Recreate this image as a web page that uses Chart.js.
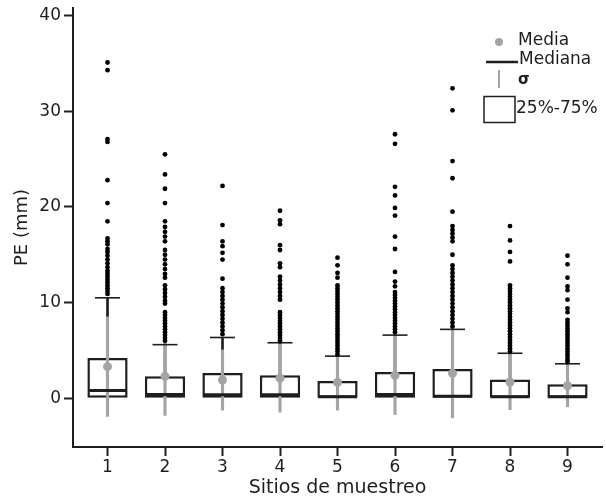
<!DOCTYPE html>
<html>
<head>
<meta charset="utf-8">
<script src="https://cdn.jsdelivr.net/npm/chart.js@4.4.0/dist/chart.umd.min.js"></script>
<style>
    html, body { margin: 0; padding: 0; background: #fff; }
    #wrap { width: 606px; height: 499px; position: relative; }
</style>
</head>
<body>
<div id="wrap"><canvas id="boxChart"></canvas></div>
<script>
// sitios de muestreo y estadisticos de PE (mm)
const sites = [1, 2, 3, 4, 5, 6, 7, 8, 9];
const q1 = [0, 0, 0, 0, 0, 0, 0, 0, 0];
const q3 = [4.2, 2.3, 2.65, 2.4, 1.8, 2.75, 3.05, 1.95, 1.45];
const median = [0.8, 0.4, 0.35, 0.35, 0.15, 0.4, 0.2, 0.15, 0.15];
const mean = [3.3, 2.3, 1.9, 2.1, 1.65, 2.4, 2.6, 1.7, 1.3];
const sd = [5.2, 4.1, 3.15, 3.55, 2.9, 4.1, 4.65, 2.9, 2.2];
const whiskerTop = [10.5, 5.6, 6.35, 5.8, 4.4, 6.6, 7.2, 4.7, 3.6];
const outliers = [
    [35.1, 34.3, 27.1, 26.8, 22.8, 20.4, 18.5, 16.7, 16.4, 16.1, 15.6, 15.3, 14.9, 14.5, 14.1, 13.7, 13.3, 13.0, 12.7, 12.4, 12.1, 11.8, 11.5, 11.2, 10.9],
    [25.5, 23.4, 21.9, 20.4, 18.5, 17.9, 17.4, 16.9, 16.4, 15.5, 15.0, 14.5, 14.0, 13.5, 13.0, 12.6, 11.8, 11.4, 11.0, 10.6, 10.2, 9.9, 9.0, 8.7, 8.4, 8.1, 7.8, 7.5, 7.2, 6.9, 6.6, 6.3, 6.0],
    [22.2, 18.1, 16.4, 15.9, 15.2, 14.5, 12.5, 11.5, 11.1, 10.7, 10.3, 9.9, 9.5, 9.1, 8.7, 8.3, 7.9, 7.5, 7.1, 6.7],
    [19.6, 18.6, 18.2, 16.0, 15.5, 14.1, 13.7, 12.7, 12.3, 11.9, 11.5, 11.1, 10.7, 10.3, 9.0, 8.7, 8.4, 8.1, 7.8, 7.5, 7.2, 6.9, 6.6, 6.3, 6.0],
    [14.7, 13.9, 13.1, 12.6, 11.8, 11.5, 11.2, 10.9, 10.6, 10.3, 10.0, 9.7, 9.4, 9.1, 8.8, 8.5, 8.2, 7.9, 7.6, 7.3, 7.0, 6.7, 6.4, 6.1, 5.8, 5.5, 5.2, 4.9, 4.6],
    [27.6, 26.6, 22.1, 21.2, 19.9, 19.1, 16.9, 15.6, 13.2, 12.2, 11.7, 11.1, 10.8, 10.5, 10.2, 9.9, 9.6, 9.3, 9.0, 8.7, 8.4, 8.1, 7.8, 7.5, 7.2, 6.9],
    [32.4, 30.1, 24.8, 23.0, 19.5, 18.0, 17.6, 17.2, 16.8, 16.4, 15.0, 13.9, 13.5, 13.1, 12.7, 12.3, 11.9, 11.5, 11.1, 10.7, 10.3, 9.9, 9.5, 9.1, 8.7, 8.3, 7.9, 7.5],
    [18.0, 16.5, 15.3, 14.3, 11.8, 11.5, 11.2, 10.9, 10.6, 10.3, 10.0, 9.7, 9.4, 9.1, 8.8, 8.5, 8.2, 7.9, 7.6, 7.3, 7.0, 6.7, 6.4, 6.1, 5.8, 5.5, 5.2, 4.9],
    [14.9, 14.0, 12.6, 11.7, 11.3, 10.3, 9.4, 9.0, 8.2, 7.9, 7.6, 7.3, 7.0, 6.7, 6.4, 6.1, 5.8, 5.5, 5.2, 4.9, 4.6, 4.3, 4.0, 3.8]
];
const yTicks = [0, 10, 20, 30, 40];
const legendLabels = ['Media', 'Mediana', 'σ', '25%-75%'];

const INK = '#1e1e1e';
const GREY = '#a4a4a4';
Chart.defaults.font.family = "'DejaVu Sans', sans-serif";
Chart.defaults.color = INK;

function pts(values) {
    return sites.map((s, i) => ({x: s, y: values[i]}));
}

function ranges(lo, hi) {
    return sites.map((s, i) => ({x: s, y: [lo[i], hi[i]]}));
}

const outlierPoints = [];
outliers.forEach((list, i) => {
    list.forEach(v => outlierPoints.push({x: sites[i], y: v}));
});

// leyenda dibujada a mano, como en la figura original
const legendPlugin = {
    id: 'boxLegend',
    afterDraw(chart) {
        const ctx = chart.ctx;
        ctx.save();
        ctx.font = "17px 'DejaVu Sans'";
        ctx.fillStyle = INK;
        ctx.textAlign = 'left';
        ctx.textBaseline = 'middle';

        ctx.fillStyle = GREY;
        ctx.beginPath();
        ctx.arc(499, 42, 4, 0, Math.PI * 2);
        ctx.fill();
        ctx.fillStyle = INK;
        ctx.fillText(legendLabels[0], 518, 41);

        ctx.strokeStyle = INK;
        ctx.lineWidth = 2.5;
        ctx.beginPath();
        ctx.moveTo(486, 62);
        ctx.lineTo(518, 62);
        ctx.stroke();
        ctx.fillText(legendLabels[1], 519, 60);

        ctx.strokeStyle = GREY;
        ctx.lineWidth = 2;
        ctx.beginPath();
        ctx.moveTo(499, 70);
        ctx.lineTo(499, 88);
        ctx.stroke();
        ctx.font = "bold 15px 'DejaVu Sans'";
        ctx.fillText(legendLabels[2], 518, 80);

        ctx.strokeStyle = INK;
        ctx.lineWidth = 1.5;
        ctx.strokeRect(484, 96.5, 31, 26);
        ctx.font = "17px 'DejaVu Sans'";
        ctx.fillText(legendLabels[3], 516, 109);
        ctx.restore();
    }
};

new Chart(document.getElementById('boxChart'), {
    type: 'bar',
    data: {
        datasets: [
            {
                type: 'scatter',
                data: outlierPoints,
                pointRadius: 2.4,
                pointBackgroundColor: '#000',
                pointBorderWidth: 0,
                order: 0
            },
            {
                type: 'scatter',
                data: pts(mean),
                pointRadius: 4.5,
                pointBackgroundColor: GREY,
                pointBorderWidth: 0,
                order: 1
            },
            {
                type: 'scatter',
                data: pts(median),
                pointStyle: 'line',
                pointRadius: 19.5,
                pointBorderColor: INK,
                pointBorderWidth: 3,
                order: 2
            },
            {
                type: 'scatter',
                data: pts(whiskerTop),
                pointStyle: 'line',
                pointRadius: 12.5,
                pointBorderColor: INK,
                pointBorderWidth: 1.6,
                order: 3
            },
            {
                type: 'bar',
                data: ranges(mean.map((m, i) => m - sd[i]), mean.map((m, i) => m + sd[i])),
                backgroundColor: GREY,
                borderWidth: 0,
                barThickness: 2.5,
                grouped: false,
                order: 4
            },
            {
                type: 'bar',
                data: ranges(q3, whiskerTop),
                backgroundColor: INK,
                borderWidth: 0,
                barThickness: 2,
                grouped: false,
                order: 5
            },
            {
                type: 'bar',
                data: ranges(q1, q3),
                backgroundColor: '#fff',
                borderColor: INK,
                borderWidth: 2.5,
                borderSkipped: false,
                barPercentage: 0.7,
                categoryPercentage: 1,
                grouped: false,
                order: 6
            }
        ]
    },
    options: {
        responsive: true,
        maintainAspectRatio: false,
        animation: false,
        layout: {
            autoPadding: false,
            padding: {top: 8, right: 4, left: 0, bottom: 0}
        },
        plugins: {
            legend: {display: false},
            tooltip: {enabled: false}
        },
        scales: {
            x: {
                type: 'linear',
                min: 0.4,
                max: 9.6,
                offset: false,
                afterBuildTicks: function (scale) {
                    scale.ticks = sites.map(v => ({value: v}));
                },
                afterFit: function (scale) {
                    scale.height = 52;
                },
                grid: {
                    offset: false,
                    drawOnChartArea: false,
                    tickLength: 9,
                    tickWidth: 2,
                    tickColor: INK
                },
                border: {color: INK, width: 2},
                ticks: {
                    padding: 1,
                    maxRotation: 0,
                    font: {size: 17}
                },
                title: {
                    display: true,
                    text: 'Sitios de muestreo',
                    font: {size: 19, lineHeight: 1},
                    padding: {top: 0, bottom: 1}
                }
            },
            y: {
                min: -5.1,
                max: 40.8,
                afterBuildTicks: function (scale) {
                    scale.ticks = yTicks.map(v => ({value: v}));
                },
                afterFit: function (scale) {
                    scale.width = 73;
                    scale.paddingTop = 0;
                    scale.paddingBottom = 0;
                },
                grid: {
                    drawOnChartArea: false,
                    tickLength: 9,
                    tickWidth: 2,
                    tickColor: INK
                },
                border: {color: INK, width: 2},
                ticks: {
                    padding: 3,
                    font: {size: 17}
                },
                title: {
                    display: true,
                    text: 'PE (mm)',
                    font: {size: 18},
                    padding: {top: 12, bottom: 0}
                }
            }
        }
    },
    plugins: [legendPlugin]
});
</script>
</body>
</html>
